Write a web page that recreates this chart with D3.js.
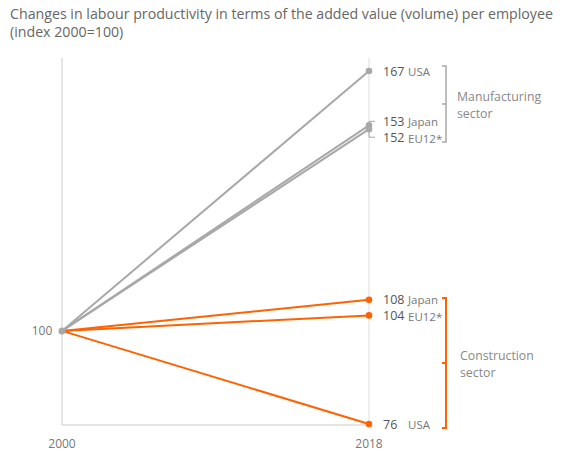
<!DOCTYPE html>
<html><head><meta charset="utf-8">
<script src="https://cdn.jsdelivr.net/npm/d3@7"></script>
<style>body{margin:0;background:#fff;font-family:"Open Sans",sans-serif;}</style>
</head><body><svg id="c" width="563" height="464"></svg>
<script>
const years = ["2000", "2018"];
const manufacturing = [
  {country: "USA", start: 100, end: 167},
  {country: "Japan", start: 100, end: 153},
  {country: "EU12*", start: 100, end: 152}
];
const construction = [
  {country: "Japan", start: 100, end: 108},
  {country: "EU12*", start: 100, end: 104},
  {country: "USA", start: 100, end: 76}
];
const yTicks = [100];
const groupLabels = [["Manufacturing", "sector"], ["Construction", "sector"]];
const titleLines = ["Changes in labour productivity in terms of the added value (volume) per employee", "(index 2000=100)"];

const svg = d3.select("#c");
const grey = "#a8a8a8", orange = "#ff6200", txt = "#777", dark = "#555";
const x = d3.scalePoint().domain(years).range([62, 369]);
const y = d3.scaleLinear().domain([76, 167]).range([424, 71]);

svg.selectAll("text.title").data(titleLines).join("text")
  .attr("x", 10).attr("y", (d,i)=>19+i*18).attr("fill", "#666").attr("font-size", 14.2).text(d=>d);

// frame
const yTop = 58, yBot = 425;
svg.append("line").attr("x1",x("2000")).attr("x2",x("2000")).attr("y1",yTop).attr("y2",yBot).attr("stroke","#ccc");
svg.append("line").attr("x1",x("2018")).attr("x2",x("2018")).attr("y1",yTop).attr("y2",yBot).attr("stroke","#ddd");
svg.append("line").attr("x1",x("2000")).attr("x2",x("2018")).attr("y1",yBot).attr("y2",yBot).attr("stroke","#ccc");

svg.selectAll("text.yt").data(yTicks).join("text").attr("x", 42).attr("y", d=>y(d)+4.5)
  .attr("text-anchor","middle").attr("font-size",12).attr("fill",txt).text(d=>d);
svg.selectAll("text.xt").data(years).join("text").attr("x", d=>x(d)).attr("y", 448)
  .attr("text-anchor","middle").attr("font-size",12).attr("fill",txt).text(d=>d);

function drawSeries(data, color, labelOffsets) {
  const g = svg.append("g");
  g.selectAll("line").data(data).join("line")
    .attr("x1", x("2000")).attr("y1", d=>y(d.start))
    .attr("x2", x("2018")).attr("y2", d=>y(d.end))
    .attr("stroke", color).attr("stroke-width", 2);
  g.selectAll("circle").data(data).join("circle")
    .attr("cx", x("2018")).attr("cy", d=>y(d.end)).attr("r", 3.3).attr("fill", color);
  data.forEach((d,i)=>{
    const ly = y(d.end) + labelOffsets[i];
    if (labelOffsets[i] !== 0) {
      g.append("path").attr("d", `M${x("2018")},${y(d.end)}V${ly}H${x("2018")+6}`)
        .attr("fill","none").attr("stroke", grey).attr("stroke-width",1);
    }
    g.append("text").attr("x", 383).attr("y", ly+4.5).attr("font-size",12.5).attr("fill",dark).text(d.end);
    g.append("text").attr("x", 408).attr("y", ly+4.5 + (d.country==="EU12*"?1:0)).attr("font-size",11.5).attr("fill",txt).text(d.country);
  });
  return g;
}
drawSeries(manufacturing, grey, [0, -4, 8]);
drawSeries(construction, orange, [0, 0, 0]);
svg.append("circle").attr("cx", x("2000")).attr("cy", y(100)).attr("r", 3.5).attr("fill", grey);

function bracket(y1, y2, color, lines, lx) {
  const bx = 446, ym = (y1+y2)/2;
  svg.append("path").attr("d", `M${bx-4},${y1}H${bx}V${y2}H${bx-4}M${bx},${ym}H${bx-4}`)
    .attr("fill","none").attr("stroke", color).attr("stroke-width", color===orange?2:1.5);
  svg.selectAll(null).data(lines).join("text").attr("x", lx).attr("y", (d,i)=>ym-3+i*17)
    .attr("font-size",12.3).attr("fill","#888").text(d=>d);
}
bracket(66, 142, grey, groupLabels[0], 457);
bracket(298, 428, orange, groupLabels[1], 460);
</script></body></html>
